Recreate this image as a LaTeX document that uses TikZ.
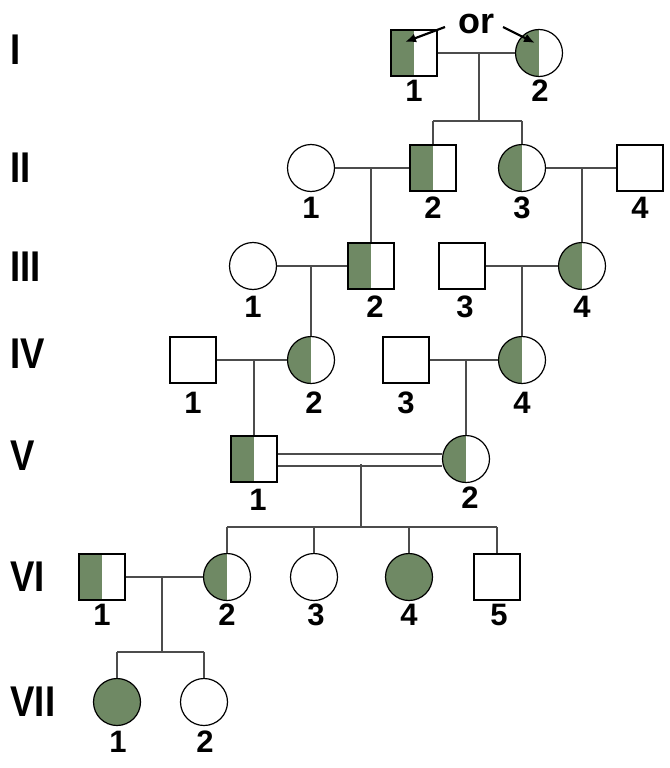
\documentclass[tikz,border=0pt]{standalone}
\usepackage{fontspec}
\setmainfont{Liberation Sans}
\usetikzlibrary{arrows.meta}
\begin{document}
\begin{tikzpicture}[x=1pt,y=-1pt,line width=1.2pt,
 sq/.style={draw=black,rectangle,minimum size=46pt,inner sep=0pt},
 ci/.style={draw=black,circle,minimum size=47pt,inner sep=0pt},
 half/.style={path picture={\fill[gr] (path picture bounding box.south west) rectangle (path picture bounding box.north);}},
 full/.style={fill=gr},
 lb/.style={font=\fontsize{31}{31}\selectfont\bfseries},
 gn/.style={font=\fontsize{43}{43}\selectfont\bfseries,anchor=west,xscale=0.85,inner sep=0pt},
 ln/.style={draw=black!70,line width=1.2pt},
 orarrow/.style={-{Latex[length=11pt,width=9pt]},line width=2.2pt}]
\definecolor{gr}{HTML}{6F8964}
\useasboundingbox (0,0) rectangle (669,768);
% generation labels
\node[gn] (g1) at (10,50) {I};
\node[gn] (g2) at (10,168) {II};
\node[gn] (g3) at (10,267) {III};
\node[gn] (g4) at (10,354) {IV};
\node[gn] (g5) at (10,456) {V};
\node[gn] (g6) at (10,577) {VI};
\node[gn] (g7) at (10,702) {VII};
% I
\node[sq,half] (a1) at (414,53) {};
\node[ci,half] (a2) at (539,53) {};
\node[lb] (la1) at (414,91) {1};
\node[lb] (la2) at (540,91) {2};
\node[lb,font=\fontsize{36}{36}\selectfont\bfseries] (or) at (476,24) {or};
\coordinate (o1) at (445,27); \coordinate (o2) at (503,27);
\coordinate (t1) at (405,42); \coordinate (t2) at (535,43);
\draw[orarrow] (o1) -- (t1);
\draw[orarrow] (o2) -- (t2);
\draw[ln] (a1) -- (a2);
\coordinate (m1) at (479,53);
\coordinate (s1) at (479,121);
\draw[ln] (m1) -- (s1);
% II
\node[ci] (b1) at (311,168) {};
\node[sq,half] (b2) at (433,168) {};
\node[ci,half] (b3) at (522,168) {};
\node[sq] (b4) at (640,168) {};
\draw[ln] (b2.north |- s1) -- (b3.north |- s1);
\draw[ln] (b2.north |- s1) -- (b2.north);
\draw[ln] (b3.north |- s1) -- (b3.north);
\foreach \n/\x in {1/311,2/433,3/522,4/640} \node[lb] (lb\n) at (\x,208) {\n};
\draw[ln] (b1) -- (b2); \draw[ln] (b3) -- (b4);
% III
\node[ci] (c1) at (253,266) {};
\node[sq,half] (c2) at (371,266) {};
\node[sq] (c3) at (462,266) {};
\node[ci,half] (c4) at (582,266) {};
\foreach \n/\x in {1/253,2/375,3/465,4/582} \node[lb] (lc\n) at (\x,307) {\n};
\draw[ln] (c1) -- (c2); \draw[ln] (c3) -- (c4);
\coordinate (m2) at (371,168); \draw[ln] (m2) -- (c2.north);
\coordinate (m3) at (582,168); \draw[ln] (m3) -- (c4.north);
% IV
\node[sq] (d1) at (193,360) {};
\node[ci,half] (d2) at (311,360) {};
\node[sq] (d3) at (406,360) {};
\node[ci,half] (d4) at (522,360) {};
\foreach \n/\x in {1/193,2/314,3/406,4/522} \node[lb] (ld\n) at (\x,403) {\n};
\draw[ln] (d1) -- (d2); \draw[ln] (d3) -- (d4);
\coordinate (m4) at (311,266); \draw[ln] (m4) -- (d2.north);
\coordinate (m5) at (522,266); \draw[ln] (m5) -- (d4.north);
% V
\node[sq,half] (e1) at (254,459) {};
\node[ci,half] (e2) at (466,459) {};
\node[lb] (le1) at (258,500) {1};
\node[lb] (le2) at (470,498) {2};
\coordinate (m6) at (254,360); \draw[ln] (m6) -- (e1.north);
\coordinate (m7) at (466,360); \draw[ln] (m7) -- (e2.north);
\draw[ln] ([yshift=-7pt]e1.east) -- ([yshift=-7pt]e2.west);
\draw[ln] ([yshift=5pt]e1.east) -- ([yshift=5pt]e2.west);
\coordinate (m8) at (361,464); \coordinate (s8) at (361,527);
\draw[ln] (m8) -- (s8);
% VI
\node[sq,half] (f1) at (102,577) {};
\node[ci,half] (f2) at (227,577) {};
\node[ci] (f3) at (314,577) {};
\node[ci,full] (f4) at (409,577) {};
\node[sq] (f5) at (497,577) {};
\foreach \n/\x in {1/102,2/227,3/316,4/409,5/499} \node[lb] (lf\n) at (\x,615) {\n};
\draw[ln] (f2.north |- s8) -- (f5.north |- s8);
\foreach \f in {f2,f3,f4,f5} \draw[ln] (\f.north |- s8) -- (\f.north);
\draw[ln] (f1) -- (f2);
\coordinate (m9) at (162,577); \coordinate (s9) at (162,652);
\draw[ln] (m9) -- (s9);
% VII
\node[ci,full] (h1) at (117,702) {};
\node[ci] (h2) at (204,702) {};
\node[lb] (lh1) at (118,742) {1};
\node[lb] (lh2) at (205,742) {2};
\draw[ln] (h1.north |- s9) -- (h2.north |- s9);
\draw[ln] (h1.north |- s9) -- (h1.north);
\draw[ln] (h2.north |- s9) -- (h2.north);
\end{tikzpicture}
\end{document}
